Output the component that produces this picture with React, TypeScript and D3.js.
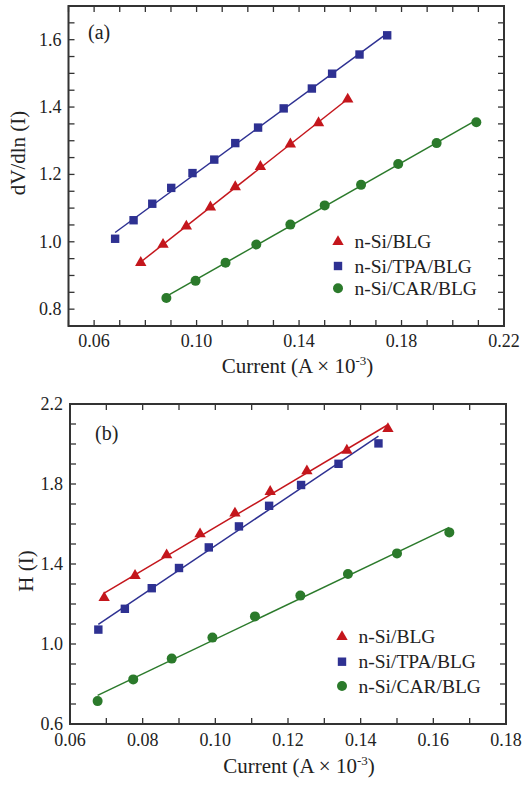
import React from "react";
import * as d3 from "d3";

// ---------- Data (panel a) ----------
const aBlgX = [0.0782, 0.0869, 0.096, 0.1054, 0.1151, 0.1249, 0.1366, 0.1476, 0.159];
const aBlgY = [0.938, 0.992, 1.046, 1.103, 1.163, 1.223, 1.29, 1.353, 1.423];
const aTpaX = [0.0682, 0.0754, 0.0827, 0.0901, 0.0984, 0.1069, 0.1151, 0.124, 0.134, 0.145, 0.1529, 0.1636, 0.1744];
const aTpaY = [1.009, 1.064, 1.113, 1.16, 1.204, 1.244, 1.293, 1.339, 1.396, 1.455, 1.499, 1.556, 1.613];
const aCarX = [0.0882, 0.0996, 0.1113, 0.1233, 0.1366, 0.15, 0.1642, 0.1787, 0.1937, 0.2092];
const aCarY = [0.833, 0.884, 0.938, 0.992, 1.051, 1.108, 1.169, 1.231, 1.293, 1.355];

// ---------- Data (panel b) ----------
const bBlgX = [0.0694, 0.0779, 0.0866, 0.0958, 0.1054, 0.1151, 0.1252, 0.1362, 0.1475];
const bBlgY = [1.231, 1.342, 1.445, 1.55, 1.654, 1.762, 1.865, 1.968, 2.076];
const bTpaX = [0.0678, 0.0751, 0.0825, 0.09, 0.0982, 0.1065, 0.1148, 0.1236, 0.1339, 0.1449];
const bTpaY = [1.072, 1.176, 1.279, 1.38, 1.483, 1.588, 1.691, 1.795, 1.901, 2.003];
const bCarX = [0.0676, 0.0774, 0.088, 0.0992, 0.1109, 0.1234, 0.1365, 0.15, 0.1644];
const bCarY = [0.7145, 0.823, 0.927, 1.032, 1.138, 1.242, 1.35, 1.453, 1.558];

const seriesNames = ["n-Si/BLG", "n-Si/TPA/BLG", "n-Si/CAR/BLG"];
const seriesColors = ["#c4161c", "#2e3192", "#2b7a2b"];
const seriesShapes = ["triangle", "square", "circle"];

const aXTicks = [0.06, 0.1, 0.14, 0.18, 0.22];
const aYTicks = [0.8, 1.0, 1.2, 1.4, 1.6];
const bXTicks = [0.06, 0.08, 0.1, 0.12, 0.14, 0.16, 0.18];
const bYTicks = [0.6, 1.0, 1.4, 1.8, 2.2];

const FONT = "'Liberation Serif', 'Times New Roman', serif";
const AXIS = "#333";

function fit(xs: number[], ys: number[]) {
  const n = xs.length;
  const mx = d3.mean(xs)!;
  const my = d3.mean(ys)!;
  let sxy = 0, sxx = 0;
  for (let i = 0; i < n; i++) {
    sxy += (xs[i] - mx) * (ys[i] - my);
    sxx += (xs[i] - mx) * (xs[i] - mx);
  }
  const b = sxy / sxx;
  const a = my - b * mx;
  const x0 = d3.min(xs)!;
  const x1 = d3.max(xs)!;
  return [[x0, a + b * x0], [x1, a + b * x1]];
}

function Marker({ shape, x, y, color }: { shape: string; x: number; y: number; color: string }) {
  if (shape === "square") return <rect x={x - 4.2} y={y - 4.2} width={8.4} height={8.4} fill={color} />;
  if (shape === "circle") return <circle cx={x} cy={y} r={5} fill={color} />;
  const sym = d3.symbol(d3.symbolTriangle, 56)();
  return <path d={sym || ""} transform={`translate(${x},${y})`} fill={color} />;
}

type PanelProps = {
  left: number; right: number; top: number; bottom: number;
  xDomain: [number, number]; yDomain: [number, number];
  xTickStep: number; yTickStep: number;
  xLabels: number[]; yLabels: number[];
  xs: number[][]; ys: number[][];
  ylabel: string; ylabelX: number; ylabelY: number;
  titleX: number; titleY: number;
  tag: string; tagX: number; tagY: number;
  legX: number; legY: number[];
  xLabelDY: number;
};

function Panel(p: PanelProps) {
  const x = d3.scaleLinear().domain(p.xDomain).range([p.left, p.right]);
  const y = d3.scaleLinear().domain(p.yDomain).range([p.bottom, p.top]);
  const xt = d3.range(Math.round(p.xDomain[0] / p.xTickStep), Math.round(p.xDomain[1] / p.xTickStep) + 1).map((k) => k * p.xTickStep);
  const yt = d3.range(Math.round(p.yDomain[0] / p.yTickStep), Math.round(p.yDomain[1] / p.yTickStep) + 1).map((k) => k * p.yTickStep);
  const T = 6;
  const line = d3.line<number[]>().x((d) => x(d[0])).y((d) => y(d[1]));
  return (
    <g>
      {p.xs.map((xs, i) => (
        <path key={"f" + i} d={line(fit(xs, p.ys[i])) || ""} stroke={seriesColors[i]} strokeWidth={1.5} fill="none" />
      ))}
      {p.xs.map((xs, i) =>
        xs.map((xv, j) => (
          <Marker key={`m${i}-${j}`} shape={seriesShapes[i]} x={x(xv)} y={y(p.ys[i][j])} color={seriesColors[i]} />
        ))
      )}
      {xt.map((v, i) => (
        <g key={"xt" + i}>
          <line x1={x(v)} x2={x(v)} y1={p.bottom} y2={p.bottom - T} stroke={AXIS} strokeWidth={1.3} />
          <line x1={x(v)} x2={x(v)} y1={p.top} y2={p.top + T} stroke={AXIS} strokeWidth={1.3} />
        </g>
      ))}
      {yt.map((v, i) => (
        <g key={"yt" + i}>
          <line x1={p.left} x2={p.left + T} y1={y(v)} y2={y(v)} stroke={AXIS} strokeWidth={1.3} />
          <line x1={p.right} x2={p.right - T} y1={y(v)} y2={y(v)} stroke={AXIS} strokeWidth={1.3} />
        </g>
      ))}
      <rect x={p.left} y={p.top} width={p.right - p.left} height={p.bottom - p.top} fill="none" stroke={AXIS} strokeWidth={2} />
      {p.xLabels.map((v, i) => (
        <text key={"xl" + i} x={x(v)} y={p.bottom + p.xLabelDY} textAnchor="middle" fontFamily={FONT} fontSize={18} fill="#222">
          {v.toFixed(2)}
        </text>
      ))}
      {p.yLabels.map((v, i) => (
        <text key={"yl" + i} x={p.left - 7} y={y(v) + 6} textAnchor="end" fontFamily={FONT} fontSize={18} fill="#222">
          {v.toFixed(1)}
        </text>
      ))}
      <text x={p.titleX} y={p.titleY} textAnchor="middle" fontFamily={FONT} fontSize={21} fill="#222">
        Current (A × 10<tspan dy={-8} fontSize={13}>-3</tspan><tspan dy={8}>)</tspan>
      </text>
      <text transform={`translate(${p.ylabelX},${p.ylabelY}) rotate(-90)`} textAnchor="middle" fontFamily={FONT} fontSize={21} fill="#222">
        {p.ylabel}
      </text>
      <text x={p.tagX} y={p.tagY} fontFamily={FONT} fontSize={20} fill="#222">{p.tag}</text>
      {seriesNames.map((n, i) => (
        <g key={"lg" + i}>
          <Marker shape={seriesShapes[i]} x={p.legX} y={p.legY[i]} color={seriesColors[i]} />
          <text x={p.legX + 16.5} y={p.legY[i] + 6.5} fontFamily={FONT} fontSize={19.5} fill="#222">{n}</text>
        </g>
      ))}
    </g>
  );
}

export default function App() {
  return (
    <svg width={523} height={787} style={{ position: "absolute", left: 0, top: 0, background: "#fff" }}>
      <Panel
        left={68.5} right={504} top={6} bottom={326}
        xDomain={[0.05, 0.22]} yDomain={[0.75, 1.7]}
        xTickStep={0.01} yTickStep={0.05}
        xLabels={aXTicks} yLabels={aYTicks}
        xs={[aBlgX, aTpaX, aCarX]} ys={[aBlgY, aTpaY, aCarY]}
        ylabel="dV/dln (I)" ylabelX={25} ylabelY={153}
        titleX={297.5} titleY={372.5}
        tag="(a)" tagX={88} tagY={39}
        legX={338} legY={[241.7, 266, 288.3]}
        xLabelDY={20.7}
      />
      <Panel
        left={70} right={506} top={404} bottom={724}
        xDomain={[0.06, 0.18]} yDomain={[0.6, 2.2]}
        xTickStep={0.01} yTickStep={0.1}
        xLabels={bXTicks} yLabels={bYTicks}
        xs={[bBlgX, bTpaX, bCarX]} ys={[bBlgY, bTpaY, bCarY]}
        ylabel="H (I)" ylabelX={33} ylabelY={571}
        titleX={299} titleY={773}
        tag="(b)" tagX={95} tagY={440}
        legX={342} legY={[636.7, 661.7, 686]}
        xLabelDY={22}
      />
    </svg>
  );
}
